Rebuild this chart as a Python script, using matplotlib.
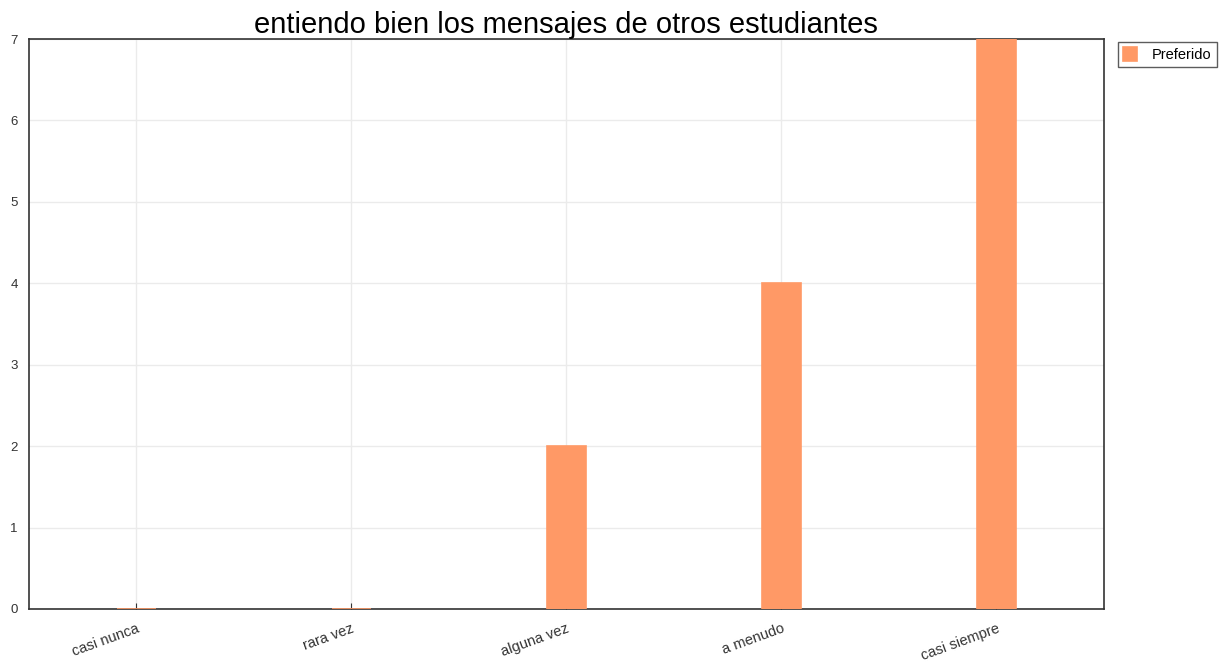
import numpy as np
import matplotlib
matplotlib.use('Agg')
import matplotlib.pyplot as plt

plt.rcParams['font.family'] = ['Liberation Sans', 'DejaVu Sans']

categories = ['casi nunca', 'rara vez', 'alguna vez', 'a menudo', 'casi siempre']
preferido = [0, 0, 2, 4, 7]
title = 'entiendo bien los mensajes de otros estudiantes'

bar_color = '#ff9966'

fig = plt.figure(figsize=(12.32, 6.69), dpi=100)
ax = fig.add_axes([0.0235, 0.0897, 0.8725, 0.852])

x = np.arange(len(categories))
ax.bar(x, preferido, width=0.182, color=bar_color, edgecolor=bar_color,
       linewidth=1.2, label='Preferido', zorder=3)

ax.set_xlim(-0.5, len(categories) - 0.5)
ax.set_ylim(0, 7)
ax.set_yticks(range(0, 8))
ax.set_xticks(x)
ax.set_xticklabels(categories, rotation=20, ha='right', rotation_mode='anchor')
ax.tick_params(axis='x', direction='in', length=4, color='#333333', labelsize=10.5,
               labelcolor='#333333', pad=9)
ax.tick_params(axis='y', length=0, labelsize=9.5, labelcolor='#333333', pad=8)
ax.grid(True, color='#ebebeb', linewidth=1, zorder=0)
for s in ax.spines.values():
    s.set_color('#333333')
    s.set_linewidth(1.2)

ax.set_title(title, fontsize=21, pad=3)

ax.legend(loc='upper left', bbox_to_anchor=(1.006, 1.008), fontsize=10.5,
          frameon=True, fancybox=False, edgecolor='#333333', handlelength=1,
          handleheight=1.1, handletextpad=1.0, borderpad=0.35)

fig.savefig('out.png', dpi=100)
